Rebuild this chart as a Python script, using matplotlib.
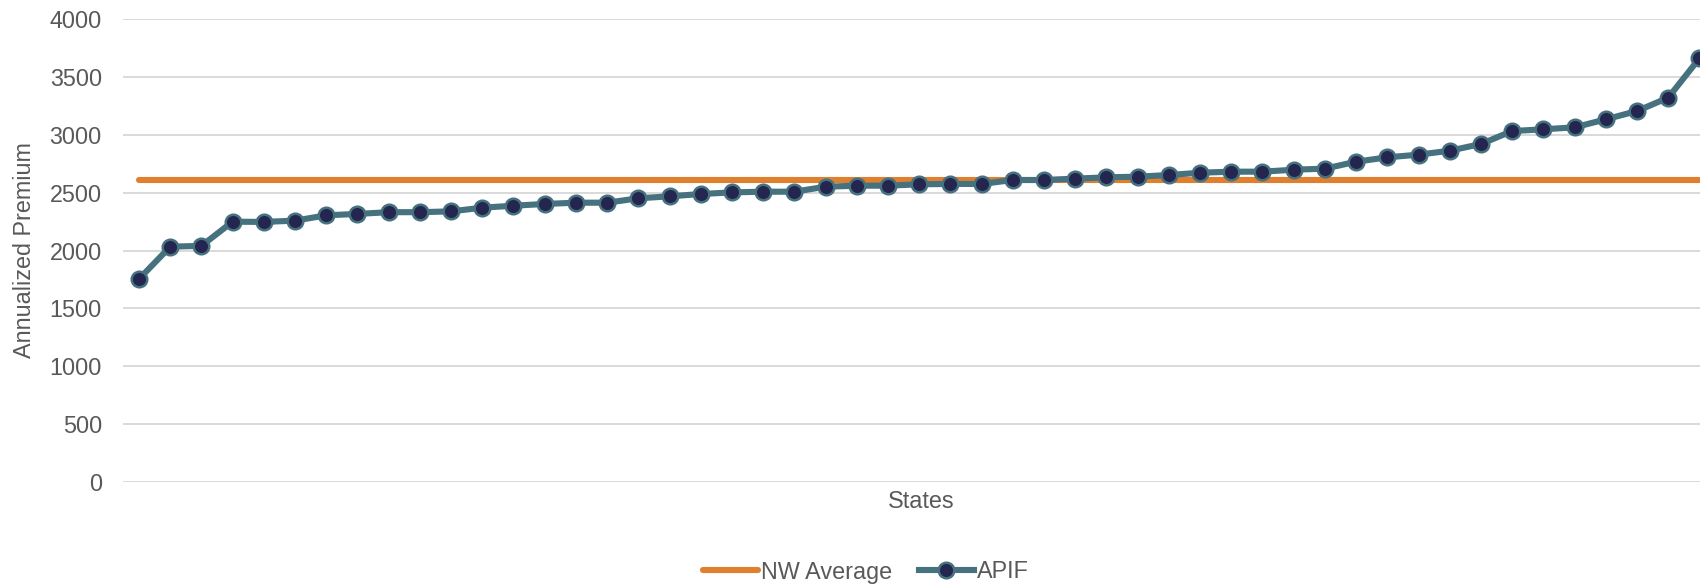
import matplotlib
matplotlib.use("Agg")
import matplotlib.pyplot as plt

# Data
states = list(range(51))  # 50 states + DC, sorted by premium (unlabelled on the chart)
apif = [1754, 2033, 2040, 2249, 2247, 2258, 2304, 2316, 2331, 2331, 2338, 2370, 2387, 2402,
        2413, 2413, 2451, 2468, 2488, 2502, 2508, 2508, 2551, 2560, 2560, 2572, 2575, 2575,
        2609, 2609, 2621, 2632, 2638, 2652, 2672, 2681, 2681, 2698, 2707, 2767, 2805, 2828,
        2862, 2920, 3032, 3047, 3064, 3133, 3205, 3320, 3660]
nw_average_value = 2605
nw_average = [nw_average_value for _ in states]
y_ticks = [0, 500, 1000, 1500, 2000, 2500, 3000, 3500, 4000]

ORANGE = "#E0802E"
TEAL = "#46717F"
NAVY = "#24264F"
GRID = "#D9D9D9"
TEXT = "#595959"

plt.rcParams['font.family'] = ['Liberation Sans', 'DejaVu Sans']
FS = 16.8

W, H = 1700, 584
fig = plt.figure(figsize=(W / 100, H / 100), dpi=100)
left, right = 123.4, 1715.0
top, bottom = 19.0, 482.0
ax = fig.add_axes([left / W, 1 - bottom / H, (right - left) / W, (bottom - top) / H])

ax.plot(states, nw_average, color=ORANGE, lw=4.4, solid_capstyle='round', label="NW Average", zorder=2)
ax.plot(states, apif, color=TEAL, lw=4.4, marker='o', markersize=11.2,
        markerfacecolor=NAVY, markeredgecolor=TEAL, markeredgewidth=1.8, label="APIF",
        zorder=3, clip_on=False)

ax.set_xlim(-0.5, 50.5)
ax.set_ylim(0, 4000)
ax.set_yticks(y_ticks)
ax.set_yticklabels([str(v) for v in y_ticks], fontsize=FS, color=TEXT)
ax.set_xticks([])
ax.tick_params(axis='y', length=0, pad=15.5)
ax.grid(axis='y', color=GRID, lw=1.4)
ax.set_axisbelow(True)
for s in ax.spines.values():
    s.set_visible(False)

fig.text(25 / W, 1 - 250 / H, "Annualized Premium", fontsize=FS, color=TEXT,
         ha='center', va='center', rotation=90)
fig.text(921 / W, 1 - 501 / H, "States", fontsize=FS, color=TEXT, ha='center', va='center')

leg = fig.legend(loc='center', bbox_to_anchor=(866 / W, 1 - 572 / H), ncol=2, frameon=False,
                 fontsize=FS, handlelength=2.35, handletextpad=0.15, columnspacing=1.15,
                 labelcolor=TEXT)

fig.savefig("out.png", dpi=100)
